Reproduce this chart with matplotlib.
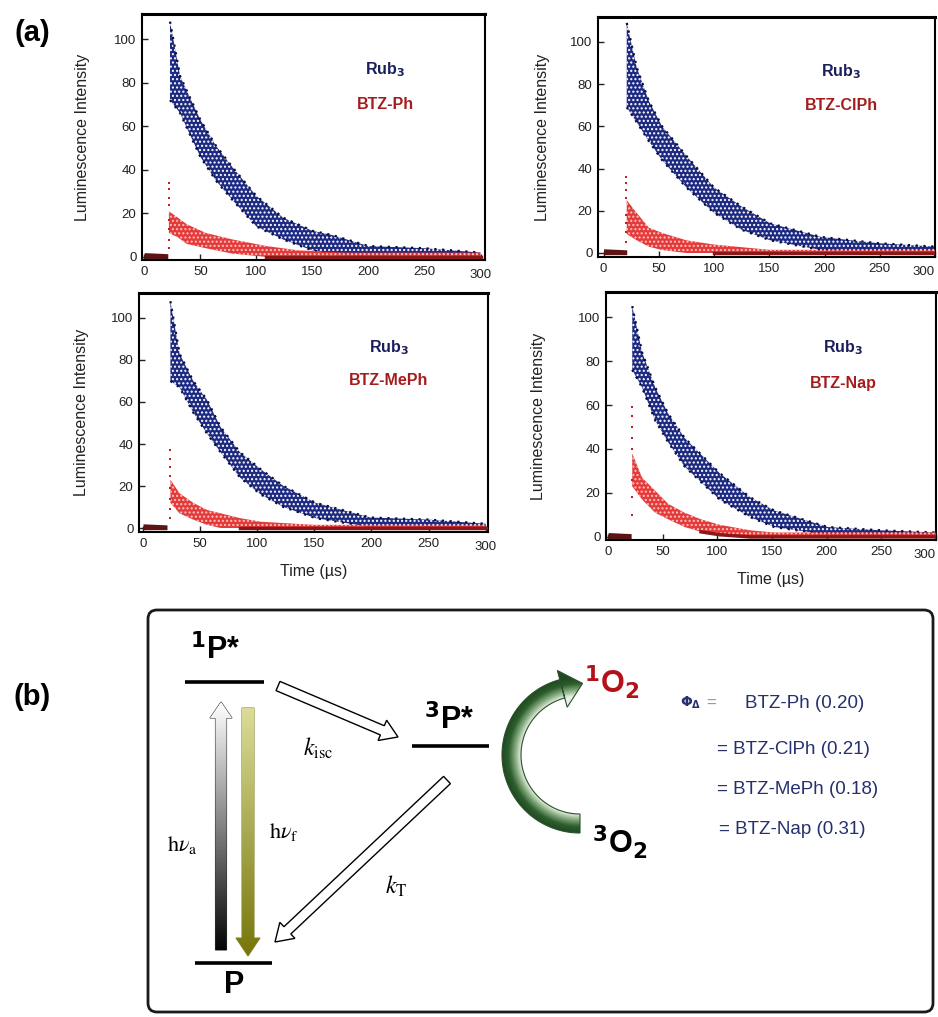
import numpy as np
import matplotlib.pyplot as plt
from matplotlib.patches import FancyArrow, FancyBboxPatch, Polygon
from matplotlib.colors import LinearSegmentedColormap
from matplotlib.transforms import ScaledTranslation

plt.rcParams['font.family'] = ['Liberation Sans', 'DejaVu Sans']
plt.rcParams['hatch.linewidth'] = 1.0

W, H = 938, 1017

# ---- panel (a): decay traces, envelopes (time in us)
names = ["BTZ-Ph", "BTZ-ClPh", "BTZ-MePh", "BTZ-Nap"]

# Rub3 reference band
ph_rub_t = [23, 32, 40, 50, 64, 79, 100, 124, 150, 168, 200, 250, 300]
ph_rub_hi = [108, 83, 74, 63, 51, 41, 28, 18, 12, 10, 5, 4, 2]
ph_rub_lo = [72, 66, 57, 46, 35, 26, 14, 8, 3, 1.5, 0, 0, 0]

cl_rub_t = [21, 30, 41, 53, 75, 100, 125, 151, 197, 247, 300]
cl_rub_hi = [109, 88, 72, 60, 46, 31, 22, 14, 7.6, 4.7, 3]
cl_rub_lo = [69, 62, 53, 44, 31, 19, 11, 6, 1.4, 0, 0]

me_rub_t = [24, 32, 44, 56, 68, 85, 103, 123, 151, 199, 250, 300]
me_rub_hi = [108, 83, 70, 61, 48, 36, 28, 20, 12, 5, 4, 2]
me_rub_lo = [70, 67, 55, 45, 36, 24, 16, 10, 4.7, 0.5, 0, 0]

nap_rub_t = [22, 31, 43, 55, 70, 102, 130, 152, 201, 250, 300]
nap_rub_hi = [105, 84, 68, 56, 45, 29, 18, 12, 4.5, 3, 2]
nap_rub_lo = [76, 68, 53, 43, 32, 17, 9, 4.5, 1, 0, 0]

# BTZ sample band
ph_btz_t = [22, 30, 38, 55, 79, 109, 138, 180, 250, 300]
ph_btz_hi = [21, 18, 15, 11, 8, 5, 3, 2, 2, 2]
ph_btz_lo = [11, 9, 6, 4, 1.5, 0, 0, 0, 0, 0]

cl_btz_t = [21, 30, 41, 53, 75, 100, 150, 200, 300]
cl_btz_hi = [25, 19, 12, 9.5, 6, 4, 1.5, 1.5, 1.5]
cl_btz_lo = [9, 6, 3, 1.4, 0, 0, 0, 0, 0]

me_btz_t = [24, 32, 44, 56, 68, 85, 103, 150, 200, 300]
me_btz_hi = [23, 16.5, 12, 8.6, 7, 4.7, 3, 1.5, 1.5, 1.5]
me_btz_lo = [12, 7, 4, 1.5, 0, 0, 0, 0, 0, 0]

nap_btz_t = [22, 31, 43, 55, 70, 85, 102, 130, 152, 200, 300]
nap_btz_hi = [38, 27, 21, 15, 11, 8, 5.5, 3, 2, 2, 2]
nap_btz_lo = [23, 17, 11, 8, 4.5, 2.3, 1, 0, 0, 0, 0]

# prompt spike (sparse dots at excitation) and pre-trigger baseline
spike_t = [22, 20, 23.5, 22]
spike_ph = [4, 8, 13, 17, 24, 27, 31, 34]
spike_cl = [5, 10, 14, 18, 26, 30, 33, 36]
spike_me = [5, 9, 14, 19, 25, 29, 33, 37]
spike_nap = [10, 18, 26, 40, 45, 50, 55, 59]
base_t = [0, 21]
base_hi = [2, 1.5]
base_lo = [-0.8, -0.8]

# axes placement in pixels: left, top, right, bottom ; x/y limits
ax_px = [(142, 14, 485, 260), (598, 17, 935, 257), (139, 293, 488, 532), (606, 292, 936, 540)]
ax_xlim = [(-2, 304), (-5, 298), (-3.5, 302), (-2, 293)]
ax_ylim = [(-1.4, 111.5), (-1.9, 111.8), (-1.9, 111.9), (-1.4, 111.4)]
ylab_x = [82, 542, 81, 538]

NAVY = '#1d2a82'
INK = '#0b0c3a'
RED = '#e2302f'
MAROON = '#5c1414'

fig = plt.figure(figsize=(W / 100, H / 100), dpi=100)

rub_sets = [(ph_rub_t, ph_rub_hi, ph_rub_lo), (cl_rub_t, cl_rub_hi, cl_rub_lo),
            (me_rub_t, me_rub_hi, me_rub_lo), (nap_rub_t, nap_rub_hi, nap_rub_lo)]
btz_sets = [(ph_btz_t, ph_btz_hi, ph_btz_lo), (cl_btz_t, cl_btz_hi, cl_btz_lo),
            (me_btz_t, me_btz_hi, me_btz_lo), (nap_btz_t, nap_btz_hi, nap_btz_lo)]
spikes = [spike_ph, spike_cl, spike_me, spike_nap]

for i in range(4):
    l, t, r, b = ax_px[i]
    ax = fig.add_axes([l / W, 1 - b / H, (r - l) / W, (b - t) / H])
    rt, rhi, rlo = rub_sets[i]
    bt, bhi, blo = btz_sets[i]

    ax.fill_between(base_t, base_lo, base_hi, color=MAROON, lw=0, zorder=2)
    ax.fill_between(rt, rlo, rhi, facecolor=NAVY, edgecolor='white', hatch='....',
                    linewidth=0, zorder=2)
    ax.plot(rt, rhi, ls=(0, (1, 2.5)), color=INK, lw=1.6, zorder=2)
    ax.plot(rt, rlo, ls=(0, (1, 2.5)), color=INK, lw=1.6, zorder=2)
    ax.fill_between(bt, blo, bhi, facecolor=RED, edgecolor='#ffc8c8', hatch='....',
                    linewidth=0, alpha=0.95, zorder=3)
    ax.plot(bt[5:], blo[5:], color='#8a1818', lw=2.5, zorder=3)
    ax.scatter([spike_t[i]] * len(spikes[i]), spikes[i], s=4, color='#c02020',
               marker='s', lw=0, zorder=3)

    ax.set_xlim(*ax_xlim[i])
    ax.set_ylim(*ax_ylim[i])
    ax.set_xticks([0, 50, 100, 150, 200, 250, 300])
    ax.set_yticks([0, 20, 40, 60, 80, 100])
    ax.tick_params(direction='in', length=4, width=1, labelsize=9.5, colors='#222222',
                   pad=4)
    # the last time label sits a little low and inside the frame
    last = ax.get_xticklabels()[-1]
    last.set_transform(last.get_transform() + ScaledTranslation(0, -3 / 100, fig.dpi_scale_trans))
    if i % 2 == 1:
        last.set_horizontalalignment('right')
    for s in ax.spines.values():
        s.set_linewidth(1.5)
    ax.spines['top'].set_linewidth(2.2)

    ax.text(215, 86, 'Rub$_\\mathbf{3}$', color='#1a1f5c', fontsize=11.5,
            fontweight='bold', ha='center', va='center')
    ax.text(215, 70, names[i], color='#a51c1c', fontsize=11.5, fontweight='bold',
            ha='center', va='center')
    fig.text(ylab_x[i] / W, 1 - ((t + b) / 2) / H, 'Luminescence Intensity',
             rotation=90, fontsize=11.5, ha='center', va='center', color='#222222')
    if i >= 2:
        ax.set_xlabel('Time (\u00b5s)', fontsize=11.5, labelpad=8, color='#222222')

# ---- panel (b): photophysics scheme drawn in pixel coordinates
dax = fig.add_axes([0, 0, 1, 1], zorder=-1)
dax.set_xlim(0, W)
dax.set_ylim(H, 0)
dax.axis('off')
dax.patch.set_alpha(0)

fig.text(32 / W, 1 - 33 / H, '(a)', fontsize=21, fontweight='bold', ha='center', va='center')
fig.text(32 / W, 1 - 697 / H, '(b)', fontsize=21, fontweight='bold', ha='center', va='center')

dax.add_patch(FancyBboxPatch((148, 610), 785, 402, boxstyle='round,pad=0,rounding_size=9',
                             lw=2, edgecolor='#1a1a1a', facecolor='none'))

# energy levels
for x0, x1, y in [(185, 264, 682), (412, 489, 746), (195, 272, 963)]:
    dax.plot([x0, x1], [y, y], color='black', lw=2.6, solid_capstyle='butt')

dax.text(215, 650, r'$^{\mathbf{1}}$P*', fontsize=22, fontweight='bold', ha='center', va='center')
dax.text(449, 720, r'$^{\mathbf{3}}$P*', fontsize=22, fontweight='bold', ha='center', va='center')
dax.text(234, 985, 'P', fontsize=22, fontweight='bold', ha='center', va='center')


def gradient_arrow(x, y0, y1, width, head_w, head_l, c_top, c_bot, edge):
    arr = FancyArrow(x, y0, 0, y1 - y0, width=width, head_width=head_w, head_length=head_l,
                     length_includes_head=True, facecolor='none', edgecolor=edge, lw=0.8)
    dax.add_patch(arr)
    cmap = LinearSegmentedColormap.from_list('g', [c_top, c_bot])
    img = dax.imshow(np.linspace(0, 1, 200).reshape(-1, 1), cmap=cmap, aspect='auto',
                     extent=(x - head_w, x + head_w, max(y0, y1), min(y0, y1)),
                     origin='upper', zorder=1)
    img.set_clip_path(arr)


# absorption (up) and fluorescence (down)
gradient_arrow(221, 950, 702, 11, 22, 16, '#ffffff', '#050505', '#333333')
gradient_arrow(248, 708, 956, 12, 24, 18, '#dcdc98', '#76760c', '#8a8a30')

dax.text(182, 845, r'$\mathrm{h}\nu_{\mathrm{a}}$', fontsize=16, math_fontfamily='stix',
         ha='center', va='center')
dax.text(284, 832, r'$\mathrm{h}\nu_{\mathrm{f}}$', fontsize=16, math_fontfamily='stix',
         ha='center', va='center')

# open arrows: ISC and triplet decay
dax.add_patch(FancyArrow(278, 686, 120, 51, width=10, head_width=22, head_length=17,
                         length_includes_head=True, facecolor='white', edgecolor='black', lw=1))
dax.add_patch(FancyArrow(447, 780, -172, 162, width=10, head_width=22, head_length=17,
                         length_includes_head=True, facecolor='white', edgecolor='black', lw=1))
dax.text(318, 748, r'$k_{\mathrm{isc}}$', fontsize=17, math_fontfamily='stix',
         ha='center', va='center')
dax.text(396, 886, r'$k_{\mathrm{T}}$', fontsize=17, math_fontfamily='stix',
         ha='center', va='center')

# curved green arrow for energy transfer 3O2 -> 1O2
cx, cy, r_out, r_in = 580, 755, 78, 59
th = np.radians(np.linspace(105, 270, 120))
outer = np.column_stack([cx + r_out * np.cos(th), cy - r_out * np.sin(th)])
inner = np.column_stack([cx + r_in * np.cos(th[::-1]), cy - r_in * np.sin(th[::-1])])
t0 = np.radians(105)
rm = (r_out + r_in) / 2
base = np.array([cx + rm * np.cos(t0), cy - rm * np.sin(t0)])
radial = np.array([np.cos(t0), -np.sin(t0)])
tang = np.array([np.sin(t0), np.cos(t0)])
head = [base + radial * 19, base + tang * 21, base - radial * 19]
verts = np.vstack([inner[-1:], base - radial * (rm - r_in),
                   head, outer, inner])
arc = Polygon(verts, closed=True, facecolor='none', edgecolor='#2c4f2c', lw=0.8, zorder=3)
dax.add_patch(arc)
gx = np.linspace(495, 610, 230)
gy = np.linspace(665, 840, 350)
GX, GY = np.meshgrid(gx, gy)
frac = np.clip((np.hypot(GX - cx, GY - cy) - r_in) / (r_out - r_in), 0, 1)
gcmap = LinearSegmentedColormap.from_list('gr', ['#e8f2e2', '#7fa67a', '#2d5e2d', '#1f4a20'])
gimg = dax.imshow(frac, cmap=gcmap, aspect='auto', extent=(495, 610, 840, 665),
                  origin='upper', zorder=2)
gimg.set_clip_path(arc)

dax.text(612, 682, r'$^{\mathbf{1}}$O$_{\mathbf{2}}$', fontsize=22, fontweight='bold',
         color='#b3121a', ha='center', va='center')
dax.text(620, 842, r'$^{\mathbf{3}}$O$_{\mathbf{2}}$', fontsize=22, fontweight='bold',
         color='black', ha='center', va='center')

# singlet oxygen quantum yields
TXT = '#25306e'
dax.text(691, 703, r'$\mathbf{\Phi_{\Delta}}$', fontsize=10, color=TXT, ha='center', va='center')
dax.text(711, 703, '=', fontsize=12, color='#8c8cd8', ha='center', va='center')
dax.text(745, 703, 'BTZ-Ph (0.20)', fontsize=13.5, color=TXT, ha='left', va='center')
dax.text(717, 749, '= BTZ-ClPh (0.21)', fontsize=13.5, color=TXT, ha='left', va='center')
dax.text(717, 790, '= BTZ-MePh (0.18)', fontsize=13.5, color=TXT, ha='left', va='center')
dax.text(719, 830, '= BTZ-Nap (0.31)', fontsize=13.5, color=TXT, ha='left', va='center')

fig.savefig('out.png', dpi=100)
